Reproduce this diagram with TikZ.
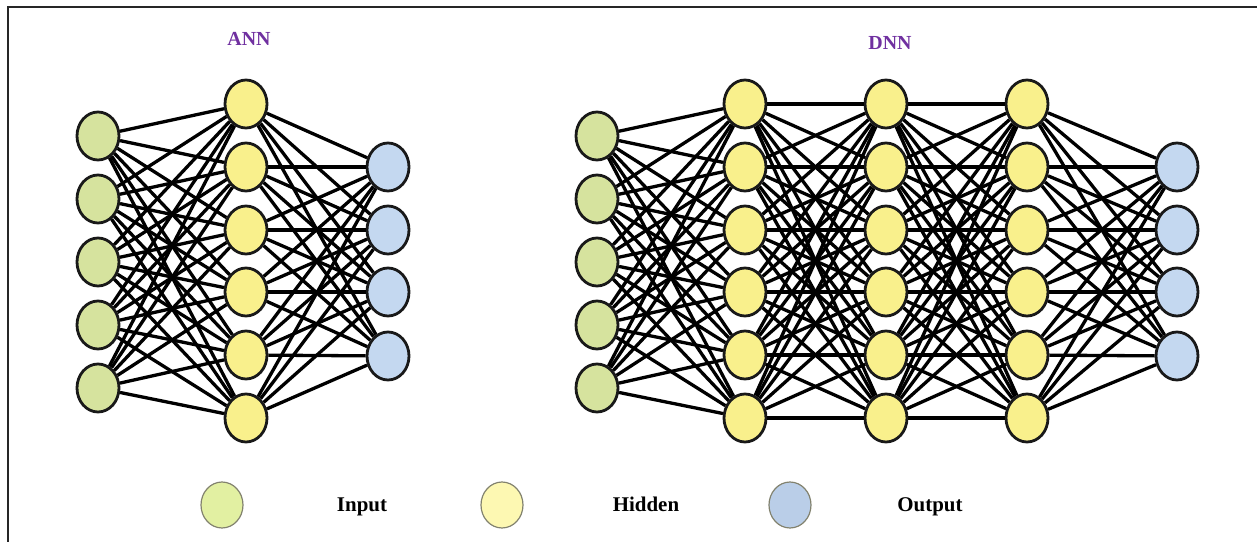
\documentclass[tikz,border=0pt]{standalone}
\usepackage{fontspec}
\setmainfont{Liberation Serif}
\usetikzlibrary{shapes.geometric}
\definecolor{inC}{RGB}{214,227,158}
\definecolor{hidC}{RGB}{249,240,140}
\definecolor{outC}{RGB}{196,216,240}
\definecolor{legIn}{RGB}{226,240,162}
\definecolor{legHid}{RGB}{253,248,178}
\definecolor{legOut}{RGB}{186,206,232}
\definecolor{legBorder}{RGB}{130,130,110}
\definecolor{titleC}{RGB}{112,48,160}
\begin{document}
\begin{tikzpicture}[x=1bp,y=-1bp,
  neuron/.style={ellipse,draw=black!90,line width=2.8bp,minimum width=42bp,minimum height=48bp,inner sep=0pt},
  edge/.style={line width=3.3bp,black},
  legend/.style={ellipse,draw=legBorder,line width=1.2bp,minimum width=42bp,minimum height=46bp,inner sep=0pt},
  titletext/.style={font=\fontsize{20}{24}\selectfont\bfseries,text=titleC,anchor=base},
  legtext/.style={font=\fontsize{21}{25}\selectfont\bfseries,text=black,anchor=base}]
\useasboundingbox (0,0) rectangle (1257,542);
\draw[line width=2.6bp,black!85] (8,542) -- (8,7) -- (1257,7);
% titles
\node[titletext] (tann) at (249,46) {ANN};
\node[titletext] (tdnn) at (890,50) {DNN};
% ANN
\foreach \i/\y in {1/136,2/199,3/262,4/325,5/388} \node[neuron,fill=inC] (ai\i) at (98,\y) {};
\foreach \i/\y in {1/104,2/167,3/230,4/292,5/355,6/418} \node[neuron,fill=hidC] (ah\i) at (246,\y) {};
\foreach \i/\y in {1/167,2/230,3/292,4/356} \node[neuron,fill=outC] (ao\i) at (388,\y) {};
\foreach \a in {1,...,5} \foreach \b in {1,...,6} \draw[edge] (ai\a) -- (ah\b);
\foreach \a in {1,...,6} \foreach \b in {1,...,4} \draw[edge] (ah\a) -- (ao\b);
% DNN
\foreach \i/\y in {1/136,2/199,3/262,4/325,5/388} \node[neuron,fill=inC] (di\i) at (597,\y) {};
\foreach \l/\x in {1/745,2/886,3/1027}
  \foreach \i/\y in {1/104,2/167,3/230,4/292,5/355,6/418} \node[neuron,fill=hidC] (d\l h\i) at (\x,\y) {};
\foreach \i/\y in {1/167,2/230,3/292,4/356} \node[neuron,fill=outC] (do\i) at (1177,\y) {};
\foreach \a in {1,...,5} \foreach \b in {1,...,6} \draw[edge] (di\a) -- (d1h\b);
\foreach \a in {1,...,6} \foreach \b in {1,...,6} {\draw[edge] (d1h\a) -- (d2h\b); \draw[edge] (d2h\a) -- (d3h\b);}
\foreach \a in {1,...,6} \foreach \b in {1,...,4} \draw[edge] (d3h\a) -- (do\b);
% legend
\node[legend,fill=legIn] (lin) at (222,505) {};
\node[legtext] (linT) at (362,511) {Input};
\node[legend,fill=legHid] (lhid) at (502,505) {};
\node[legtext] (lhidT) at (646,511) {Hidden};
\node[legend,fill=legOut] (lout) at (790,505) {};
\node[legtext] (loutT) at (930,511) {Output};
\end{tikzpicture}
\end{document}
